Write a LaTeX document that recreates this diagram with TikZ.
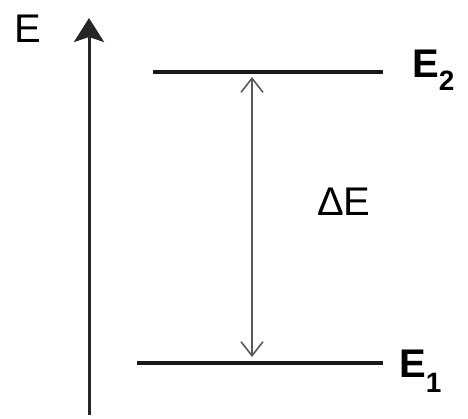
\documentclass[tikz,border=0pt]{standalone}
\usepackage{fontspec}
\setmainfont{Liberation Sans}
\usetikzlibrary{arrows.meta,positioning}
\tikzset{
  lvline/.style={line width=4pt, black!90},
  axisline/.style={-{Stealth[length=24pt,width=30pt,inset=5pt]}, line width=3pt, black!85},
  gapline/.style={{Straight Barb[length=14pt,width=22pt]}-{Straight Barb[length=14pt,width=22pt]}, line width=1.6pt, black!65},
  lvlabel/.style={font=\fontsize{40}{44}\selectfont\bfseries, anchor=base west, inner sep=0pt},
  axlabel/.style={font=\fontsize{40}{44}\selectfont, anchor=base west, inner sep=0pt}
}
\newcommand{\subidx}[2]{{\fontsize{28}{28}\selectfont\raisebox{#1}{#2}}}

\begin{document}
\begin{tikzpicture}[x=1pt, y=-1pt]
  \useasboundingbox (0,0) rectangle (468,418);
  % energy axis
  \coordinate (axb) at (89,415);
  \coordinate (axt) at (89,18);
  \draw[axisline] (axb) -- (axt);
  \node[axlabel] (elab) at (14,42) {E};
  % levels
  \coordinate (e2l) at (153,72);
  \coordinate (e2r) at (383,72);
  \coordinate (e1l) at (137,363);
  \coordinate (e1r) at (383,363);
  \draw[lvline] (e2l) -- (e2r);
  \draw[lvline] (e1l) -- (e1r);
  \node[lvlabel] (e2lab) at (412,77) {E\subidx{-13pt}{2}};
  \node[lvlabel] (e1lab) at (399,377) {E\subidx{-15pt}{1}};
  % gap
  \coordinate (gt) at (252,77);
  \coordinate (gb) at (252,357);
  \draw[gapline] (gb) -- (gt);
  \node[axlabel] (dlab) at (317,215) {ΔE};
\end{tikzpicture}
\end{document}
